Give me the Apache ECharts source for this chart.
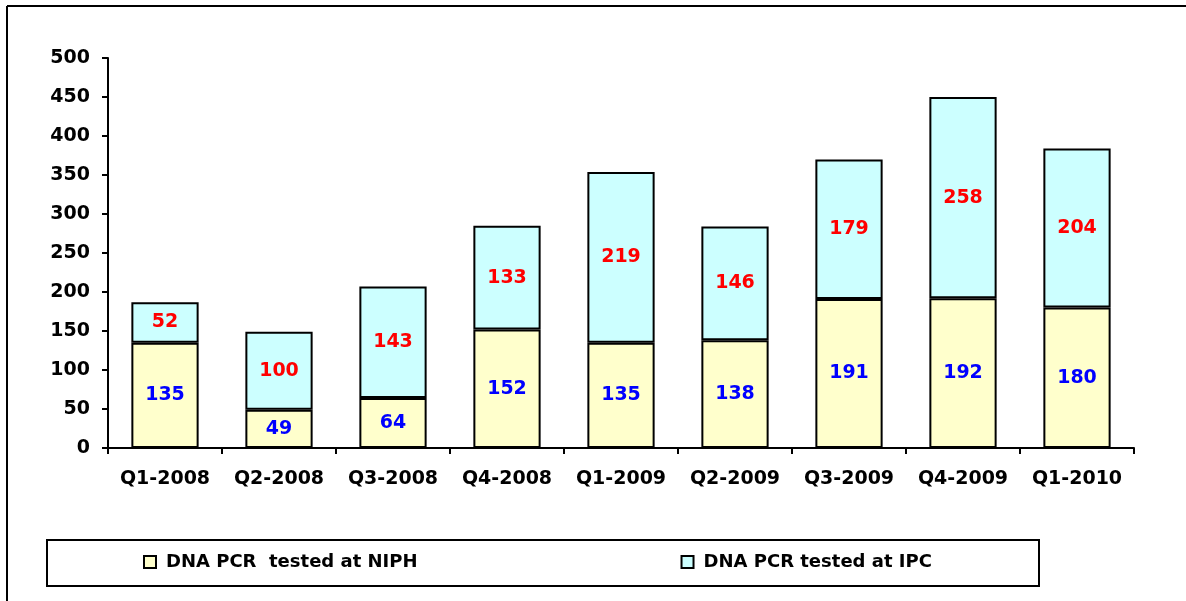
<!DOCTYPE html>
<html>
<head>
<meta charset="utf-8">
<script src="https://cdn.jsdelivr.net/npm/echarts@6/dist/echarts.min.js"></script>
<style>
  html, body { margin: 0; padding: 0; background: #fff; }
  #main { width: 1186px; height: 601px; }
</style>
</head>
<body>
<div id="main"></div>
<script>
  const quarters = ['Q1-2008', 'Q2-2008', 'Q3-2008', 'Q4-2008', 'Q1-2009', 'Q2-2009', 'Q3-2009', 'Q4-2009', 'Q1-2010'];
  const niph = [135, 49, 64, 152, 135, 138, 191, 192, 180];
  const ipc = [52, 100, 143, 133, 219, 146, 179, 258, 204];
  const seriesNames = ['DNA PCR  tested at NIPH', 'DNA PCR tested at IPC'];

  const chart = echarts.init(document.getElementById('main'));
  const font = '"DejaVu Sans", sans-serif';

  chart.setOption({
    animation: false,
    textStyle: { fontFamily: font },
    grid: { left: 108, right: 52, top: 58, bottom: 153 },
    // frame (only left + top edges show) and legend box
    graphic: [
      { type: 'line', shape: { x1: 7, y1: 6, x2: 7, y2: 601 }, style: { stroke: '#000', lineWidth: 2 } },
      { type: 'line', shape: { x1: 7, y1: 6, x2: 1186, y2: 6 }, style: { stroke: '#000', lineWidth: 2 } },
      { type: 'rect', shape: { x: 47, y: 540, width: 992, height: 46 }, style: { fill: 'none', stroke: '#000', lineWidth: 2 } }
    ],
    legend: {
      left: 143,
      top: 553,
      padding: 0,
      itemGap: 263,
      itemWidth: 12,
      itemHeight: 12,
      icon: 'rect',
      textStyle: { color: '#000', fontSize: 18, fontWeight: 'bold', fontFamily: font, padding: [0, 0, 0, 5] },
      data: seriesNames
    },
    xAxis: {
      type: 'category',
      data: quarters,
      axisLine: { lineStyle: { color: '#000', width: 2 } },
      axisTick: { show: true, interval: 0, length: 6, lineStyle: { color: '#000', width: 2 } },
      axisLabel: { interval: 0, hideOverlap: false, color: '#000', fontSize: 19, fontWeight: 'bold', margin: 22, fontFamily: font }
    },
    yAxis: {
      type: 'value',
      min: 0,
      max: 500,
      interval: 50,
      splitLine: { show: false },
      axisLine: { show: true, lineStyle: { color: '#000', width: 2 } },
      axisTick: { show: true, length: 6, lineStyle: { color: '#000', width: 2 } },
      axisLabel: { color: '#000', fontSize: 19, fontWeight: 'bold', margin: 18, fontFamily: font }
    },
    series: [
      {
        name: seriesNames[0],
        type: 'bar',
        stack: 'total',
        barWidth: '59%',
        itemStyle: { color: '#FFFFCC', borderColor: '#000', borderWidth: 2 },
        label: { show: true, position: 'inside', color: '#0000FF', fontSize: 19, fontWeight: 'bold', fontFamily: font },
        data: niph
      },
      {
        name: seriesNames[1],
        type: 'bar',
        stack: 'total',
        barWidth: '59%',
        itemStyle: { color: '#CCFFFF', borderColor: '#000', borderWidth: 2 },
        label: { show: true, position: 'inside', color: '#FF0000', fontSize: 19, fontWeight: 'bold', fontFamily: font },
        data: ipc
      }
    ]
  });
</script>
</body>
</html>
